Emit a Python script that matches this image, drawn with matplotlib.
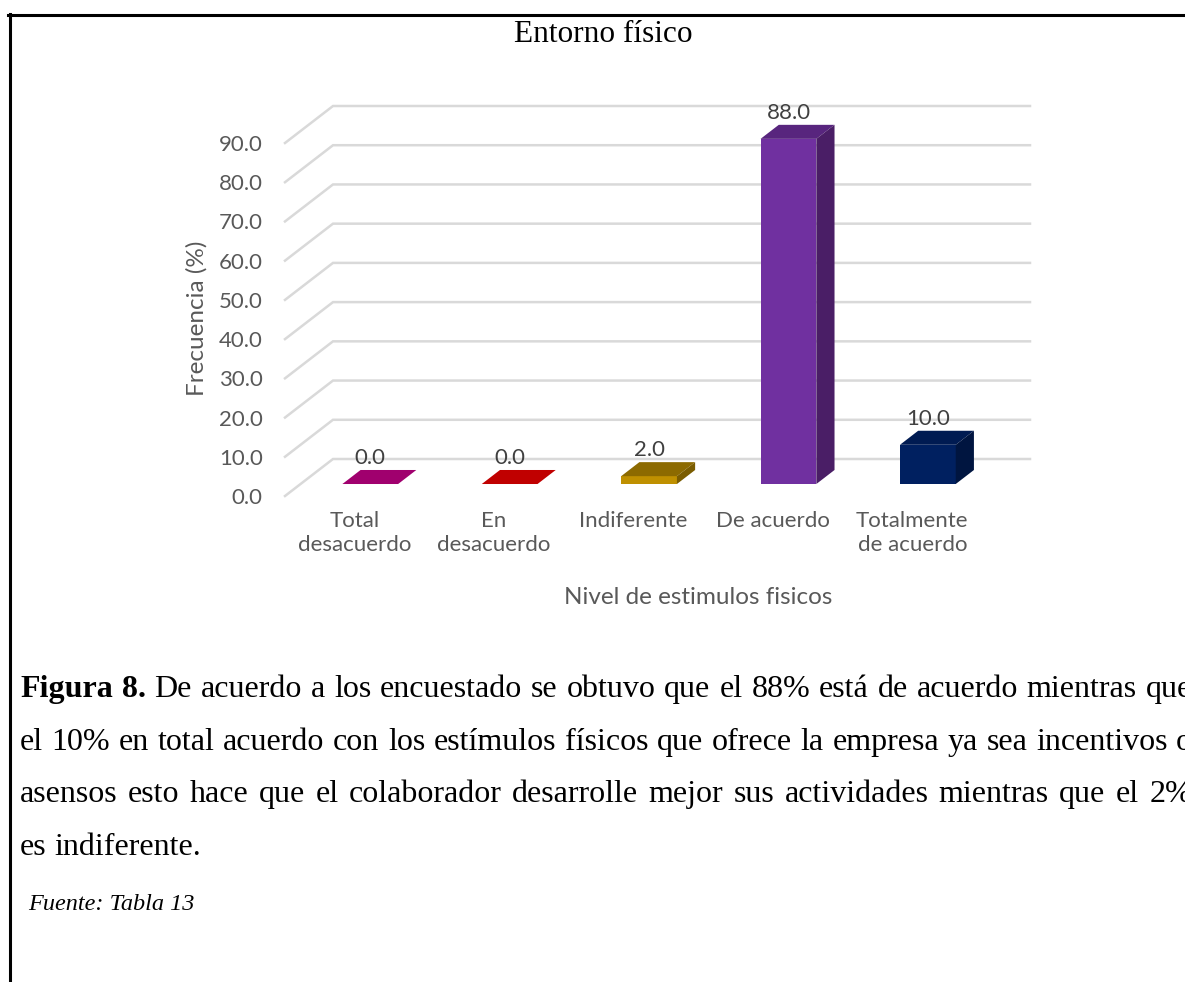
import numpy as np
import matplotlib.pyplot as plt
from matplotlib.patches import Polygon
from matplotlib.lines import Line2D

categorias = ["Total\ndesacuerdo", "En\ndesacuerdo", "Indiferente",
              "De acuerdo", "Totalmente\nde acuerdo"]
frecuencia = [0.0, 0.0, 2.0, 88.0, 10.0]
marcas_y = [0, 10, 20, 30, 40, 50, 60, 70, 80, 90]

color_frente = ["#B5007E", "#D00000", "#BF9000", "#7030A0", "#002060"]
color_tapa = ["#A0006E", "#C00000", "#8C6A00", "#58257E", "#001B52"]
color_lado = ["#7A0054", "#900000", "#7A5C00", "#4A1E66", "#001540"]

titulo_figura = "Figura 8."
texto_figura = [
    "De acuerdo a los encuestado se obtuvo que el 88% está de acuerdo mientras que",
    "el 10% en total acuerdo con los estímulos físicos que ofrece la empresa ya sea incentivos o",
    "asensos esto hace que el colaborador desarrolle mejor sus actividades mientras que el 2%",
    "es indiferente.",
]
nota_fuente = "Fuente: Tabla 13"

W, H = 1185, 982
fig = plt.figure(figsize=(W / 100, H / 100), dpi=100)


def fx(px):
    return px / W


def fy(py):
    return 1 - py / H


gris = "#595959"
fuente = "Lato"
tam = 16

# plano frontal del piso
ax = fig.add_axes([fx(285), fy(496), fx(982) - fx(285), fy(143) - fy(496)])
ax.set_xlim(-0.5, 4.5)
ax.set_ylim(0, 90)
for s in ax.spines.values():
    s.set_visible(False)

# profundidad (pared del fondo) en unidades de datos
prof_x = 48 / (697 / 5)
prof_y = 37 / (353 / 90)
f0, f1 = 0.324, 0.703
ancho = 0.40
dx = prof_x * (f1 - f0)
dy = prof_y * (f1 - f0)
base = prof_y * f0

# lineas de la pared y del costado
for v in marcas_y:
    ax.plot([-0.5, -0.5 + prof_x, 4.5 + prof_x], [v, v + prof_y, v + prof_y],
            color="#D9D9D9", lw=1.8, clip_on=False, zorder=1,
            solid_joinstyle="miter")

x = np.arange(len(frecuencia))
xc = x + prof_x * f0
ax.bar(xc, frecuencia, width=ancho, bottom=base, color=color_frente,
       zorder=3, clip_on=False)

for i, v in enumerate(frecuencia):
    xl = xc[i] - ancho / 2
    xr = xc[i] + ancho / 2
    top = base + v
    tapa = Polygon([(xl, top), (xr, top), (xr + dx, top + dy), (xl + dx, top + dy)],
                   closed=True, color=color_tapa[i], zorder=4, clip_on=False, lw=0)
    ax.add_patch(tapa)
    if v > 0:
        lado = Polygon([(xr, base), (xr, top), (xr + dx, top + dy), (xr + dx, base + dy)],
                       closed=True, color=color_lado[i], zorder=4, clip_on=False, lw=0)
        ax.add_patch(lado)
    ax.annotate(f"{v:.1f}", (xc[i], top + dy), xytext=(0, 8.5),
                textcoords="offset points", ha="center", va="center",
                fontsize=tam, family=fuente, color="#404040", zorder=5,
                annotation_clip=False)

ax.set_yticks(marcas_y)
ax.set_yticklabels([f"{v:.1f}" for v in marcas_y])
ax.set_xticks(x)
ax.set_xticklabels(categorias)
ax.tick_params(axis="y", length=0, pad=16, labelsize=tam, labelcolor=gris)
ax.tick_params(axis="x", length=0, pad=11, labelsize=tam, labelcolor=gris)
for t in ax.get_xticklabels() + ax.get_yticklabels():
    t.set_family(fuente)
for t in ax.get_xticklabels():
    t.set_linespacing(1.25)

ax.set_ylabel("Frecuencia (%)", fontsize=17.5, family=fuente, color=gris,
              va="center")
ax.yaxis.set_label_coords((197 - 285) / 697, (496 - 318) / 353)
ax.set_xlabel("Nivel de estimulos fisicos", fontsize=17.5, family=fuente,
              color=gris, va="center")
ax.xaxis.set_label_coords((698.5 - 285) / 697, (496 - 597) / 353)

fig.text(fx(603), fy(35), "Entorno físico", ha="center", va="center",
         family="Liberation Serif", fontsize=22.5, color="black")

# texto de la figura, justificado
serif = "Liberation Serif"
tam_texto = 23
renderer = fig.canvas.get_renderer()


def escribir_linea(y, palabras, x0, x1=None):
    arts = []
    for palabra, peso in palabras:
        arts.append(fig.text(0, fy(y), palabra, family=serif, weight=peso,
                             fontsize=tam_texto, va="baseline"))
    anchos = [a.get_window_extent(renderer=renderer).width for a in arts]
    espacio = arts[0].get_fontsize() * 0.25 * 100 / 72
    if x1 is not None and len(arts) > 1:
        espacio = (x1 - x0 - sum(anchos)) / (len(arts) - 1)
    pos = x0
    for a, w in zip(arts, anchos):
        a.set_x(fx(pos))
        pos += w + espacio


base_lineas = [697, 750, 802, 855]
for k, (yb, linea) in enumerate(zip(base_lineas, texto_figura)):
    palabras = [(p, "normal") for p in linea.split(" ")]
    if k == 0:
        palabras = [(p, "bold") for p in titulo_figura.split(" ")] + palabras
    fin = 1192 if k < len(texto_figura) - 1 else None
    escribir_linea(yb, palabras, 20, fin)

fig.text(fx(28), fy(910), nota_fuente, family=serif, style="italic",
         fontsize=17.5, va="baseline")

# marco
fig.add_artist(Line2D([fx(8), 1], [fy(15), fy(15)], color="black", lw=2.2))
fig.add_artist(Line2D([fx(9.5), fx(9.5)], [fy(14), 0], color="black", lw=2.2))

fig.savefig("out.png", dpi=100)
